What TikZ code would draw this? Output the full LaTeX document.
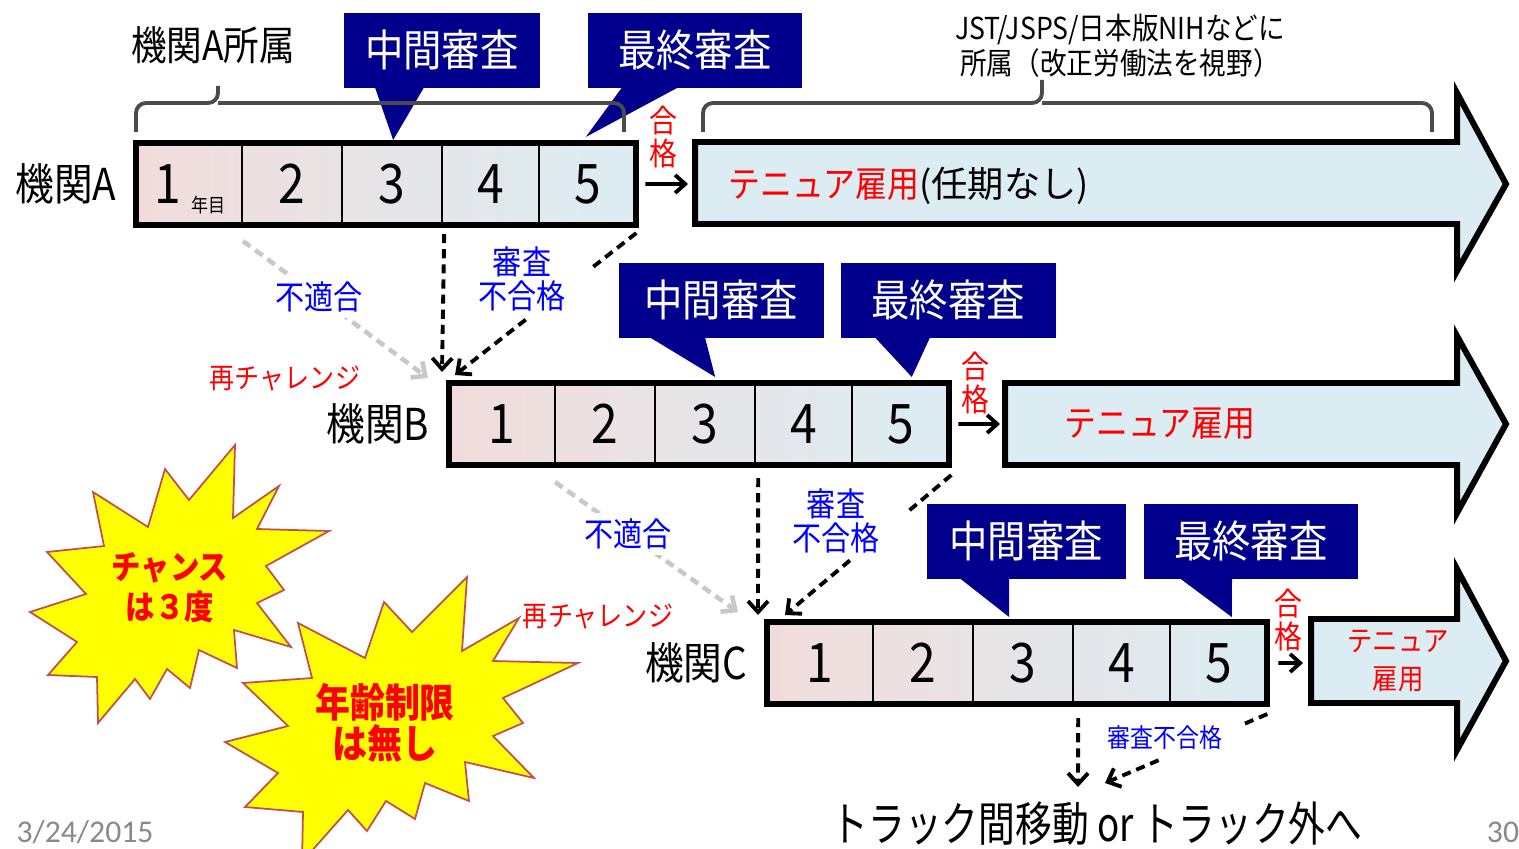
\documentclass[tikz,border=0pt]{standalone}
\usepackage{fontspec}
\setmainfont{Noto Sans CJK JP}[FakeStretch=0.88]
\newfontfamily\widefont{Noto Sans CJK JP}
\newfontfamily\narrowfont{Noto Sans CJK JP}[FakeStretch=0.78]
\newfontfamily\datefont{Carlito}
\usetikzlibrary{arrows.meta,positioning,calc}
\definecolor{reviewcolor}{RGB}{0,0,140}
\definecolor{tenurecolor}{RGB}{219,237,243}
\definecolor{yearleft}{RGB}{242,220,219}
\definecolor{yearright}{RGB}{219,237,243}
\definecolor{burstcolor}{RGB}{255,255,0}
\definecolor{burstline}{RGB}{190,80,77}
\definecolor{bracecolor}{RGB}{75,75,75}
\definecolor{failcolor}{RGB}{0,0,255}
\definecolor{retrycolor}{RGB}{200,200,200}
\definecolor{footcolor}{RGB}{137,137,137}

\begin{document}
\begin{tikzpicture}[
    x=0.01cm, y=-0.01cm,
    every node/.style={inner sep=0pt},
    yearcell/.style={
        draw=black, line width=0.6pt, anchor=north west, outer sep=0pt,
        minimum height=0.82cm, font=\fontsize{15.5}{16}\selectfont
    },
    rowframe/.style={draw=black, line width=1.7pt},
    rowlabel/.style={font=\fontsize{12.5}{14}\selectfont},
    review/.style={
        fill=reviewcolor, text=white, anchor=north west,
        minimum height=0.75cm, font=\fontsize{12.4}{14}\selectfont
    },
    tenure/.style={draw=black, fill=tenurecolor, line width=1.7pt},
    tenuretext/.style={text=red, font=\fontsize{10.3}{12}\selectfont},
    brace/.style={draw=bracecolor, line width=1.1pt, rounded corners=0.1cm},
    passlabel/.style={text=red, align=center, font=\fontsize{9}{9.4}\selectfont},
    pass/.style={-{Straight Barb[length=0.1cm, width=0.18cm]}, line width=1.1pt},
    fail/.style={-{Straight Barb[length=0.11cm, width=0.2cm]}, dashed,
        dash pattern=on 2.6pt off 1.7pt, line width=1.1pt},
    retry/.style={fail, draw=retrycolor, line width=1.3pt},
    faillabel/.style={text=failcolor, align=center, font=\fontsize{9.4}{8}\selectfont},
    retrylabel/.style={text=red, font=\fontsize{8.1}{9}\selectfont},
    burst/.style={fill=burstcolor, draw=burstline, line width=0.5pt},
    bursttext/.style={text=red, align=center, font=\bfseries\fontsize{9.5}{11.4}\selectfont}
]
\useasboundingbox (0,0) rectangle (1519,849);

% Year rows
\foreach \r/\x/\y/\one in {A/136/143/{\makebox[0.7cm][l]{1}}, B/449/383/1, C/767/622/1}{
    \shade[left color=yearleft, right color=yearright] (\x,\y) rectangle ++(500,82);
    \node[yearcell, minimum width=1.06cm] (\r1) at (\x,\y) {\one};
    \node[yearcell, minimum width=1cm, right=0pt of \r1] (\r2) {2};
    \node[yearcell, minimum width=1cm, right=0pt of \r2] (\r3) {3};
    \node[yearcell, minimum width=0.97cm, right=0pt of \r3] (\r4) {4};
    \node[yearcell, minimum width=0.97cm, right=0pt of \r4] (\r5) {5};
    \draw[rowframe] (\r1.north west) rectangle (\r5.south east);
    \node[rowlabel, left=0.19cm of \r1] (inst\r) {機関\r};
}
\node[font=\fontsize{5.5}{6}\selectfont] (yearunit) at ($(A1.center)+(19,21)$) {年目};

% Reviews
\node[review, minimum width=1.96cm] (midA) at (343,12) {中間審査};
\fill[reviewcolor] ($(midA.south west)+(32,-1)$) -- ($(midA.south west)+(81,-1)$) -- ($(A3.north)+(1,-3)$) -- cycle;
\node[review, minimum width=2.14cm] (finA) at (587,12) {最終審査};
\fill[reviewcolor] ($(finA.south west)+(35,-1)$) -- ($(finA.south west)+(91,-1)$) -- ($(A5.north)+(-2,-6)$) -- cycle;

\node[review, minimum width=2.05cm] (midB) at (618,262) {中間審査};
\fill[reviewcolor] ($(midB.south west)+(32,-1)$) -- ($(midB.south west)+(87,-1)$) -- ($(B3.north)+(10,-6)$) -- cycle;
\node[review, minimum width=2.15cm] (finB) at (840,262) {最終審査};
\fill[reviewcolor] ($(finB.south west)+(35,-1)$) -- ($(finB.south west)+(90,-1)$) -- ($(B5.north)+(11,-6)$) -- cycle;

\node[review, minimum width=1.99cm] (midC) at (926,503) {中間審査};
\fill[reviewcolor] ($(midC.south west)+(34,-1)$) -- ($(midC.south west)+(83,-1)$) -- ($(C3.north)+(-14,-5)$) -- cycle;
\node[review, minimum width=2.14cm] (finC) at (1143,503) {最終審査};
\fill[reviewcolor] ($(finC.south west)+(37,-1)$) -- ($(finC.south west)+(89,-1)$) -- ($(C5.north)+(13,-5)$) -- cycle;

% Braces
\draw[brace] (136,132) |- (218,103) -- (218,86) (218,103) -| (624,132);
\node[font=\fontsize{11.5}{13}\selectfont] (braceA) at (213,45) {機関A所属};
\draw[brace] (703,132) |- (1042,103) -- (1042,80) (1042,103) -| (1432,132);
\node[align=center, font=\fontsize{8.6}{8}\selectfont] (braceTen) at (1120,46)
{JST/JSPS/日本版NIHなどに\\所属（改正労働法を視野）};

% Tenure arrows
\draw[tenure] (695,142) -- (1457,142) -- (1457,93) -- (1506,184) -- (1457,271) -- (1457,224) -- (695,224) -- cycle;
\coordinate (tenA) at (695,184);
\node[tenuretext, anchor=west] (tenAtext) at (728,186) {テニュア雇用\textcolor{black}{\widefont(任期なし)}};

\draw[tenure] (1005,383) -- (1457,383) -- (1457,336) -- (1506,424) -- (1457,513) -- (1457,465) -- (1005,465) -- cycle;
\coordinate (tenB) at (1005,424);
\node[tenuretext] (tenBtext) at (1160,424) {テニュア雇用};

\draw[tenure] (1311,619) -- (1457,619) -- (1457,569) -- (1506,661) -- (1457,750) -- (1457,703) -- (1311,703) -- cycle;
\coordinate (tenC) at (1311,663);
\node[tenuretext, align=center, font=\fontsize{8.2}{10.8}\selectfont] (tenCtext) at (1398,661) {テニュア\\雇用};

% Passing
\draw[pass, shorten <=0.09cm, shorten >=0.07cm] (A5.east) -- (tenA);
\node[passlabel] (passA) at (663,137) {合\\格};
\draw[pass, shorten <=0.09cm, shorten >=0.05cm] (B5.east) -- (tenB);
\node[passlabel] (passB) at (975,383) {合\\格};
\draw[pass, shorten <=0.11cm, shorten >=0.08cm] (C5.east) -- (tenC);
\node[passlabel] (passC) at (1288,620) {合\\格};

% A -> B
\draw[retry] ($(A1.south east)+(1,16)$) -- node[pos=0.41, fill=white, inner sep=0.06cm, faillabel] {不適合} ($(B1.north west)+(-21,-5)$);
\node[retrylabel] (retryA) at (285,378) {再チャレンジ};
\draw[fail] ($(A4.south west)+(2,9)$) -- ($(B1.north west)+(-7,-11)$);
\coordinate (failAtop) at ($(A5.south east)+(0,8)$);
\coordinate (failAbot) at ($(B1.north west)+(6,-8)$);
\draw[fail, -] (failAtop) -- ($(failAtop)!0.25!(failAbot)$);
\draw[fail] ($(failAtop)!0.61!(failAbot)$) -- (failAbot);
\node[faillabel] (failAlabel) at (522,279) {審査\\不合格};

% B -> C
\draw[retry] ($(B1.south east)+(0,17)$) -- node[pos=0.4, fill=white, inner sep=0.06cm, faillabel] {不適合} ($(C1.north west)+(-29,-10)$);
\node[retrylabel] (retryB) at (598,616) {再チャレンジ};
\draw[fail] ($(B4.south west)+(3,13)$) -- ($(C1.north west)+(-9,-7)$);
\coordinate (failBtop) at ($(B5.south east)+(2,10)$);
\coordinate (failBbot) at ($(C1.north west)+(18,-7)$);
\draw[fail, -] (failBtop) -- ($(failBtop)!0.27!(failBbot)$);
\draw[fail] ($(failBtop)!0.61!(failBbot)$) -- (failBbot);
\node[faillabel] (failBlabel) at (836,521) {審査\\不合格};

% C -> out
\node[anchor=north, font=\narrowfont\fontsize{13.4}{14}\selectfont] (exit) at (1097,801) {トラック間移動 or トラック外へ};
\draw[fail] ($(C4.south west)+(5,14)$) -- ($(exit.north)+(-19,-14)$);
\coordinate (failCtop) at ($(C5.south east)+(0,10)$);
\coordinate (failCbot) at ($(exit.north)+(8,-18)$);
\draw[fail, -] (failCtop) -- ($(failCtop)!0.17!(failCbot)$);
\draw[fail] ($(failCtop)!0.67!(failCbot)$) -- (failCbot);
\node[faillabel, font=\fontsize{7.4}{8}\selectfont] (failClabel) at (1165,738) {審査不合格};

% Bursts
\filldraw[burst] (235,445) -- (233,518) -- (279,486) -- (257,529) -- (329,531) -- (266,566) -- (284,590) -- (257,603) -- (291,647) -- (234,630) -- (237,668) -- (199,650) -- (190,688) -- (167,669) -- (150,699) -- (135,679) -- (98,723) -- (97,677) -- (48,675) -- (77,642) -- (30,612) -- (86,594) -- (47,552) -- (104,546) -- (93,492) -- (148,527) -- (165,469) -- (189,500) -- cycle;
\node[bursttext] (chance) at (170,588) {チャンス\\は３度};

\filldraw[burst] (467,577) -- (462,651) -- (519,618) -- (493,661) -- (578,663) -- (503,698) -- (523,723) -- (493,736) -- (534,778) -- (465,762) -- (469,801) -- (425,783) -- (415,819) -- (386,801) -- (367,831) -- (348,810) -- (302,862) -- (303,812) -- (245,807) -- (278,773) -- (225,742) -- (288,726) -- (243,683) -- (312,678) -- (298,623) -- (365,658) -- (384,602) -- (412,632) -- cycle;
\node[bursttext, font=\bfseries\fontsize{11.3}{11.7}\selectfont] (agefree) at (385,723) {年齢制限\\は無し};

% Footer
\node[text=footcolor, font=\datefont\fontsize{9}{9}\selectfont] (date) at (85,832) {3/24/2015};
\node[text=footcolor, font=\datefont\fontsize{9}{9}\selectfont] (page) at (1503,832) {30};

\end{tikzpicture}
\end{document}
